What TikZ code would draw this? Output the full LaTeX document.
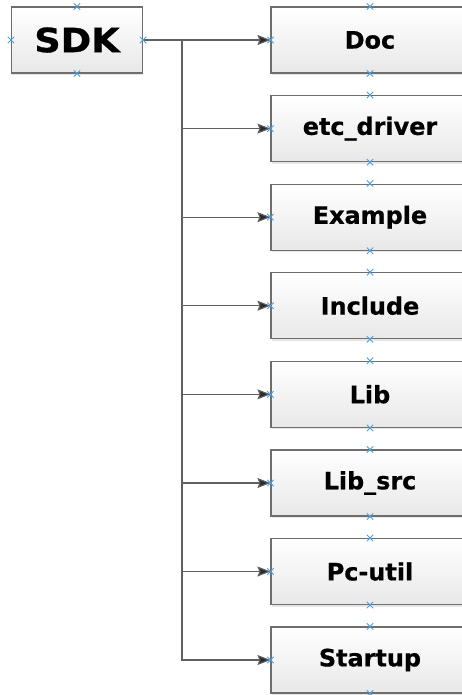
\documentclass[tikz,border=0pt]{standalone}
\usepackage{fontspec}
\setmainfont{DejaVu Sans}
\usetikzlibrary{arrows.meta,shapes.misc,shadows}

\definecolor{boxline}{HTML}{6E6E6E}
\definecolor{wire}{HTML}{606060}
\definecolor{tipgray}{HTML}{2A2A2A}
\definecolor{markblue}{HTML}{4A9FE0}

\tikzset{
  folder/.style={draw=boxline, line width=0.65pt, top color=white, bottom color=black!9,
    minimum width=3.96cm, minimum height=1.32cm, inner sep=0pt,
    font=\bfseries\fontsize{13.6}{16}\selectfont\addfontfeature{FakeBold=0.6},
    drop shadow={shadow xshift=0.02cm, shadow yshift=-0.04cm, opacity=0.2}},
  rootbox/.style={folder, minimum width=2.62cm,
    font=\bfseries\fontsize{19}{22}\selectfont\addfontfeature{FakeStretch=1.1,FakeBold=0.8}},
  link/.style={draw=wire, line width=0.65pt,
    -{Stealth[length=0.26cm,width=0.2cm,inset=0.04cm,fill=tipgray]}},
  cpmark/.style={cross out, draw=markblue, line width=0.5pt, minimum size=0.11cm, inner sep=0pt},
}

% blue connection points round a box
\newcommand\cpmarks[1]{%
  \foreach \side in {north,south,east,west} {\node[cpmark] at (#1.\side) {};}}

\begin{document}
\begin{tikzpicture}
  \useasboundingbox (0,0) rectangle (9.24,-13.9);

  \node[rootbox] (sdk) at (1.54,-0.80) {SDK};

  \node[folder] (doc)     at (7.40,-0.80)  {Doc};
  \node[folder] (etcdrv)  at (7.40,-2.572) {etc\_driver};
  \node[folder] (example) at (7.40,-4.343) {Example};
  \node[folder] (include) at (7.40,-6.114) {Include};
  \node[folder] (lib)     at (7.40,-7.886) {Lib};
  \node[folder] (libsrc)  at (7.40,-9.66)  {Lib\_src};
  \node[folder] (pcutil)  at (7.40,-11.43) {Pc-util};
  \node[folder] (startup) at (7.40,-13.20) {Startup};

  % trunk going down from the root, one piece per branch
  \coordinate (fork) at (3.64,-0.80);
  \draw[link] (sdk.east) -- (doc.west);
  \foreach \sub [remember=\sub as \prev (initially doc)] in
      {etcdrv,example,include,lib,libsrc,pcutil,startup}
    \draw[link] (fork |- \prev.west) |- (\sub.west);

  \foreach \n in {sdk,doc,etcdrv,example,include,lib,libsrc,pcutil,startup}
    {\cpmarks{\n}}
\end{tikzpicture}
\end{document}
